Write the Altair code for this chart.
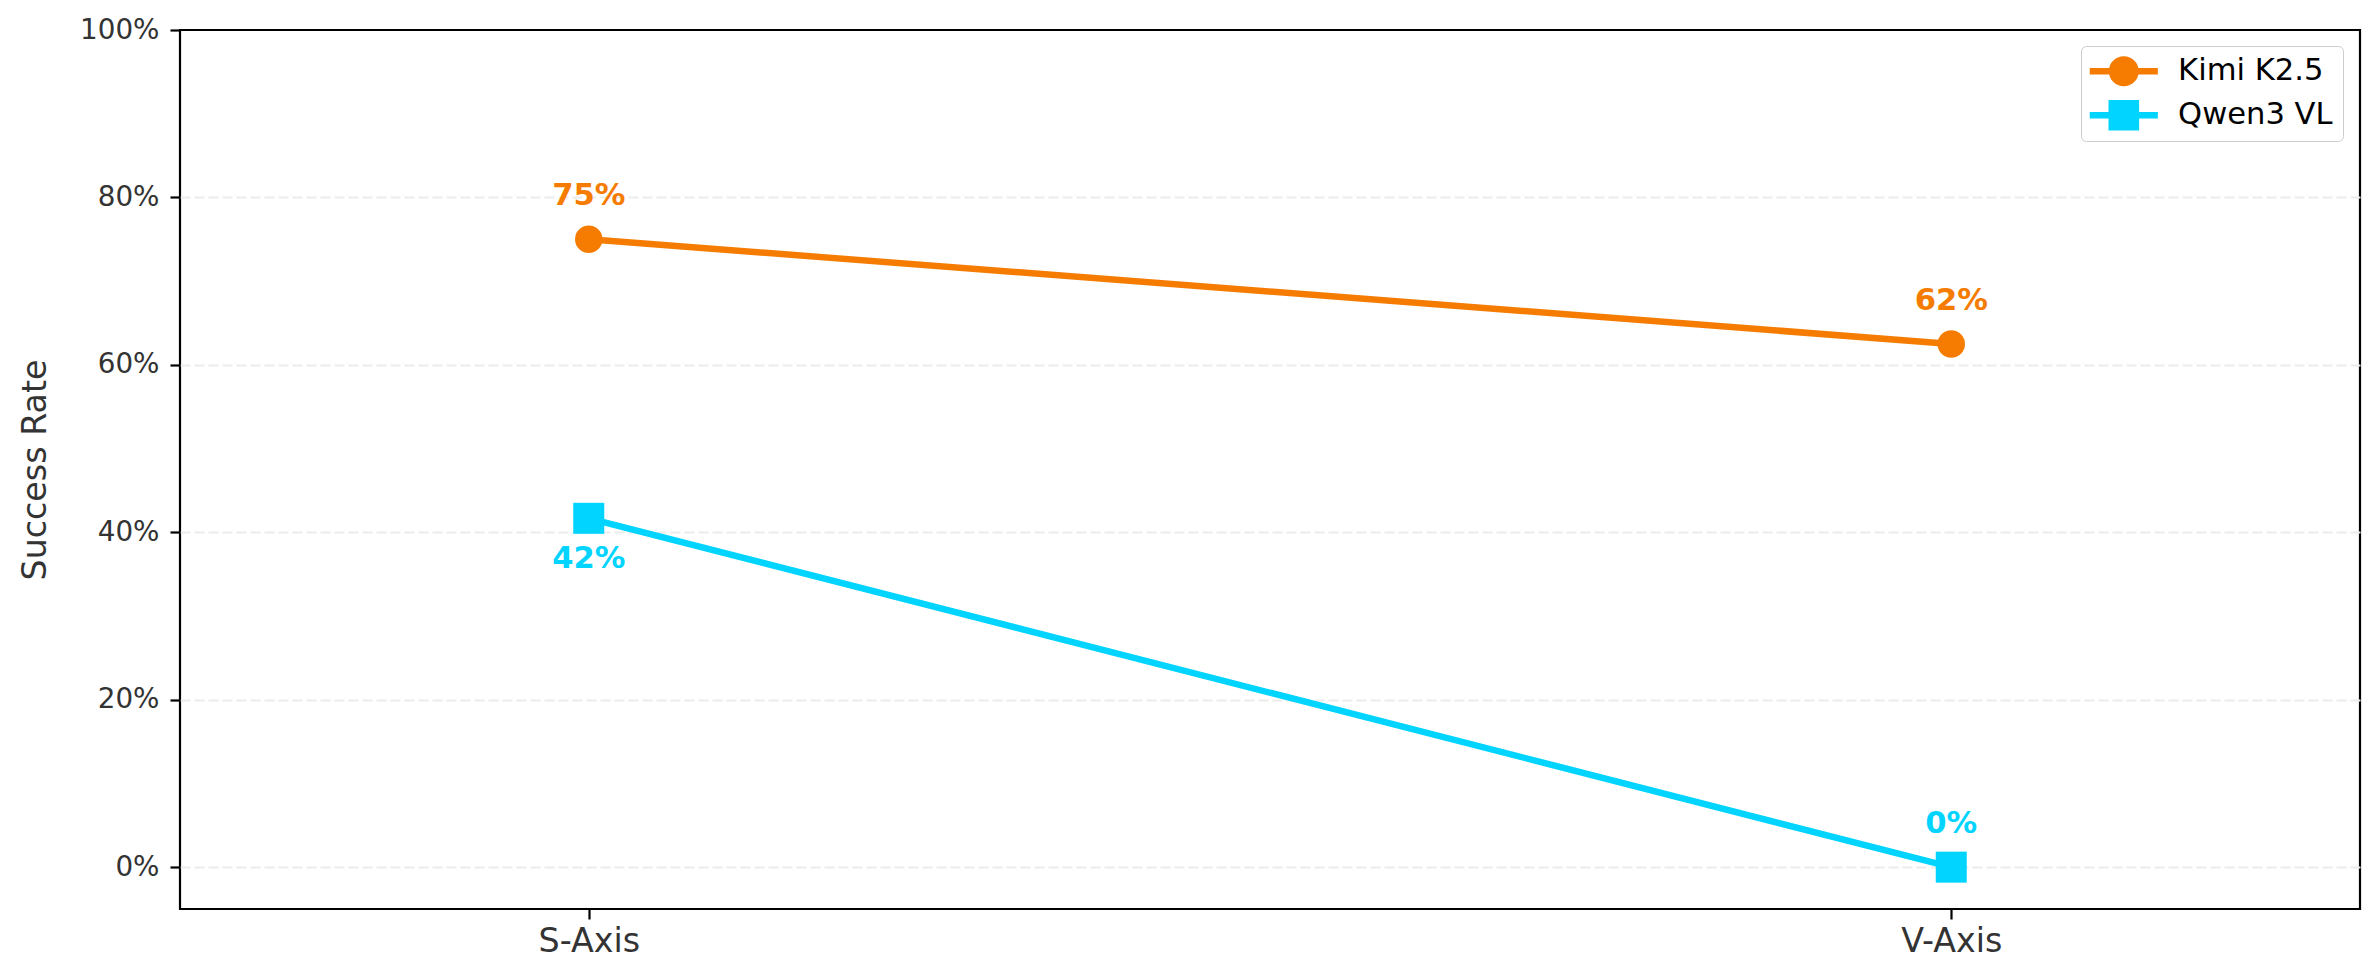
import altair as alt
import pandas as pd

categories = ["S-Axis", "V-Axis"]
models = ["Kimi K2.5", "Qwen3 VL"]
kimi_values = [75.0, 62.5]
qwen_values = [41.67, 0.0]
kimi_labels = ["75%", "62%"]
qwen_labels = ["42%", "0%"]
colors = ["#F57C00", "#00D4FF"]
y_ticks = [0, 20, 40, 60, 80, 100]

rows = []
for m, vals, labs in [(models[0], kimi_values, kimi_labels),
                      (models[1], qwen_values, qwen_labels)]:
    for c, v, l in zip(categories, vals, labs):
        rows.append({"category": c, "model": m, "value": v, "label": l})
df = pd.DataFrame(rows)

FONT = "DejaVu Sans"

x_enc = alt.X(
    "category:N",
    sort=categories,
    scale=alt.Scale(type="point", padding=0.3, domain=categories),
    axis=alt.Axis(title=None, labelAngle=0, labelFontSize=33.3, labelPadding=6,
                  labelColor="#333333", labelFont=FONT, grid=False,
                  domain=False, tickColor="black", tickWidth=2.2, tickSize=10),
)
y_enc = alt.Y(
    "value:Q",
    scale=alt.Scale(domain=[-5, 100], nice=False, zero=False),
    axis=alt.Axis(values=y_ticks, labelExpr="datum.value + '%'",
                  labelFontSize=27.8, labelPadding=11, labelColor="#333333",
                  labelFont=FONT, grid=True, gridDash=[10, 4], gridColor="#ececec",
                  gridOpacity={"condition": {"test": "datum.value >= 100", "value": 0},
                               "value": 1},
                  gridWidth=2.2, domain=False, tickColor="black", tickWidth=2.2,
                  tickSize=10, title="Success Rate", titleFont=FONT,
                  titleFontSize=33.3, titleFontWeight="normal",
                  titleColor="#333333", titleX=-135, titleY=439.5,
                  titleAngle=270, titleAlign="center",
                  titleBaseline="alphabetic"),
)
color_scale = alt.Scale(domain=models, range=colors)
color_nolegend = alt.Color("model:N", scale=color_scale, legend=None)

base = alt.Chart(df)

lines = base.mark_line(strokeWidth=6.5).encode(
    x=x_enc, y=y_enc, color=color_nolegend, detail="model:N")

kimi_pts = base.mark_point(shape="circle", filled=True, size=755, opacity=1).encode(
    x=x_enc, y=y_enc, color=color_nolegend
).transform_filter(alt.datum.model == models[0])

qwen_pts = base.mark_point(shape="square", filled=True, size=961, opacity=1).encode(
    x=x_enc, y=y_enc, color=color_nolegend
).transform_filter(alt.datum.model == models[1])

below_expr = "datum.model === '" + models[1] + "' && datum.value > 0"

labels_above = base.mark_text(font=FONT, fontSize=30.6, fontWeight="bold",
                              baseline="alphabetic", align="center", dy=-34).encode(
    x=x_enc, y=y_enc, color=color_nolegend, text="label:N"
).transform_filter("!(" + below_expr + ")")

labels_below = base.mark_text(font=FONT, fontSize=30.6, fontWeight="bold",
                              baseline="alphabetic", align="center", dy=50).encode(
    x=x_enc, y=y_enc, color=color_nolegend, text="label:N"
).transform_filter(below_expr)

kimi_path = ("M-2.27,-0.22 L-0.9,-0.22 L-0.9,0.22 L-2.27,0.22 Z "
             "M0.9,-0.22 L2.27,-0.22 L2.27,0.22 L0.9,0.22 Z "
             "M1,0 A1,1 0 1,1 -1,0 A1,1 0 1,1 1,0 Z")
qwen_path = ("M-2.27,-0.22 L-1,-0.22 L-1,0.22 L-2.27,0.22 Z "
             "M1,-0.22 L2.27,-0.22 L2.27,0.22 L1,0.22 Z "
             "M-1.02,-1.02 L1.02,-1.02 L1.02,1.02 L-1.02,1.02 Z")

legend_def = alt.Legend(
    title=None, orient="none", legendX=1901, legendY=16, padding=10,
    symbolOffset=17.5, labelOffset=39, rowPadding=13, fillColor="white",
    strokeColor="#cccccc", cornerRadius=5, symbolSize=900,
    symbolStrokeWidth=0, symbolOpacity=1, labelFont=FONT,
    labelFontSize=30.6, labelColor="black", labelLimit=0,
)

legend_layer = base.mark_point(filled=True, opacity=0, size=900).encode(
    x=x_enc, y=y_enc,
    color=alt.Color("model:N", scale=color_scale, legend=legend_def),
    shape=alt.Shape("model:N", scale=alt.Scale(domain=models,
                                               range=[kimi_path, qwen_path]),
                    legend=legend_def),
)

chart = alt.layer(
    legend_layer, lines, kimi_pts, qwen_pts, labels_above, labels_below
).properties(
    width=2180, height=879,
    padding={"left": 172, "top": 22, "right": 10, "bottom": 63},
    autosize=alt.AutoSizeParams(type="none"),
    background="white",
).configure_view(
    stroke="black", strokeWidth=2.2
)

chart.save("out.html", embed_options={"renderer": "svg", "actions": False})
